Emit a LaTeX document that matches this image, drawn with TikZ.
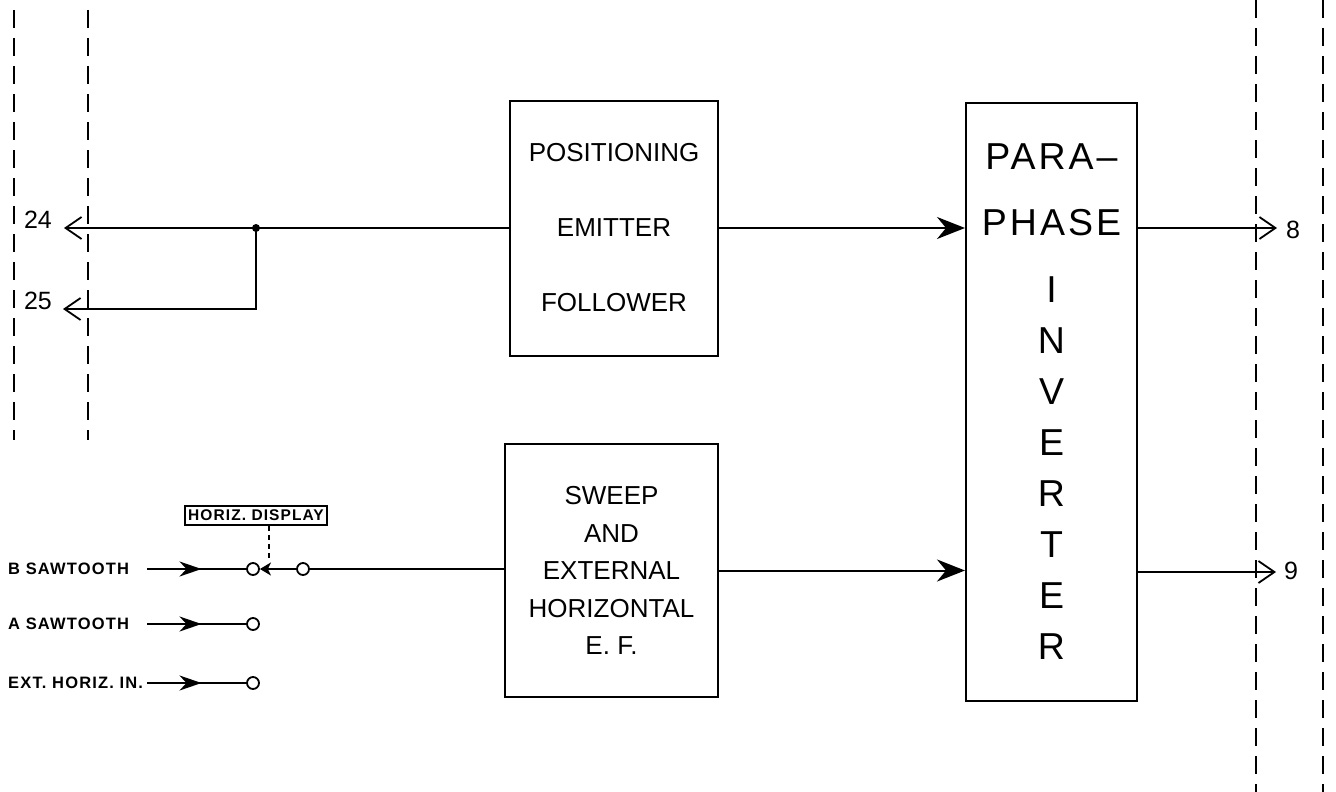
\documentclass[tikz,border=0pt]{standalone}
\usepackage{fontspec}
\setmainfont{Liberation Sans}
\newfontfamily\ppfont[LetterSpace=8]{Liberation Sans}
\newfontfamily\lblfont[LetterSpace=7]{Liberation Sans}
\usetikzlibrary{arrows.meta,decorations.markings}
\tikzset{
  wire/.style={line width=2pt},
  blk/.style={draw, line width=2pt, align=center, inner sep=0pt},
  frame/.style={line width=2.2pt, dash pattern=on 18pt off 10pt},
  bigin/.style={-{Stealth[length=28pt,width=22pt,inset=9pt]}},
  outarr/.style={-{Straight Barb[length=16pt,width=22pt,line width=1.8pt]}},
  midarr/.style={postaction={decorate}, decoration={markings,
     mark=at position #1 with {\arrow{Stealth[length=22pt,width=15pt,inset=7pt]}}}},
  term/.style={circle, draw, line width=1.8pt, fill=white, minimum size=12pt, inner sep=0pt},
  dot/.style={circle, fill, minimum size=8pt, inner sep=0pt},
  num/.style={font=\fontsize{25}{27}\selectfont, inner sep=0pt},
  src/.style={font=\lblfont\bfseries\fontsize{16.5}{18}\selectfont, anchor=west, inner sep=0pt},
}
\begin{document}
\begin{tikzpicture}[x=1pt,y=-1pt]
\useasboundingbox (0,0) rectangle (1336,792);

% frame boundaries
\draw[frame] (14,10) -- (14,440);
\draw[frame] (88,10) -- (88,440);
\draw[frame] (1256,0) -- (1256,792);
\draw[frame] (1323,0) -- (1323,792);

% blocks
\node[blk, minimum width=208pt, minimum height=255pt,
      font=\fontsize{26}{75}\selectfont] (pef) at (614,228)
      {POSITIONING\\EMITTER\\FOLLOWER};
\node[blk, minimum width=213pt, minimum height=253pt,
      font=\fontsize{26}{37.5}\selectfont] (swp) at (611.5,570.5)
      {SWEEP\\AND\\EXTERNAL\\HORIZONTAL\\E. F.};
\node[blk, minimum width=171pt, minimum height=598pt,
      font=\ppfont\fontsize{37.5}{51}\selectfont] (pp) at (1051.5,402)
      {PARA–\\[15pt]PHASE\\[16pt]I\\N\\V\\E\\R\\T\\E\\R};

% outputs 24 / 25
\coordinate (t24) at (64,228);
\coordinate (t25) at (63,309);
\node[num] (n24) at (38,220) {24};
\node[num] (n25) at (38,301) {25};
\node[dot] (j) at (256,228) {};
\draw[wire, outarr] (pef.west) -- (t24);
\draw[wire, outarr] (j.center) |- (t25);

% positioning EF to paraphase
\draw[wire, bigin] (pef.east) -- (pef.east -| pp.west);

% outputs 8 / 9
\coordinate (t8) at (1277,228);
\coordinate (t9) at (1276,572);
\node[num] (n8) at (1293,230) {8};
\node[num] (n9) at (1291,571) {9};
\draw[wire, outarr] (pp.east |- t8) -- (t8);
\draw[wire, outarr] (pp.east |- t9) -- (t9);

% sweep to paraphase
\draw[wire, bigin] (swp.east) -- (swp.east -| pp.west);

% input selector
\node[src] (lB) at (8,569) {B SAWTOOTH};
\node[src] (lA) at (8,624) {A SAWTOOTH};
\node[src] (lE) at (8,683) {EXT. HORIZ. IN.};
\coordinate (sB) at (147,569);
\coordinate (sA) at (147,624);
\coordinate (sE) at (147,683);
\node[term] (cB1) at (253,569) {};
\node[term] (cB2) at (303,569) {};
\node[term] (cA) at (253,624) {};
\node[term] (cE) at (253,683) {};
\draw[wire, midarr=0.55] (sB) -- (cB1);
\draw[wire, midarr=0.55] (sA) -- (cA);
\draw[wire, midarr=0.55] (sE) -- (cE);
\draw[wire, -{Stealth[length=11pt,width=13pt,inset=3pt]}] (cB2) -- (cB1);
\draw[wire] (cB2) -- (cB2 -| swp.west);

% switch label
\node[draw, line width=1.6pt, inner xsep=3pt, inner ysep=4pt,
      font=\lblfont\bfseries\fontsize{15.5}{17}\selectfont] (hd) at (256,515.5) {HORIZ. DISPLAY};
\coordinate (sw) at (269,559);
\draw[wire, dash pattern=on 5pt off 4pt] (sw |- hd.south) -- (sw);
\end{tikzpicture}
\end{document}
